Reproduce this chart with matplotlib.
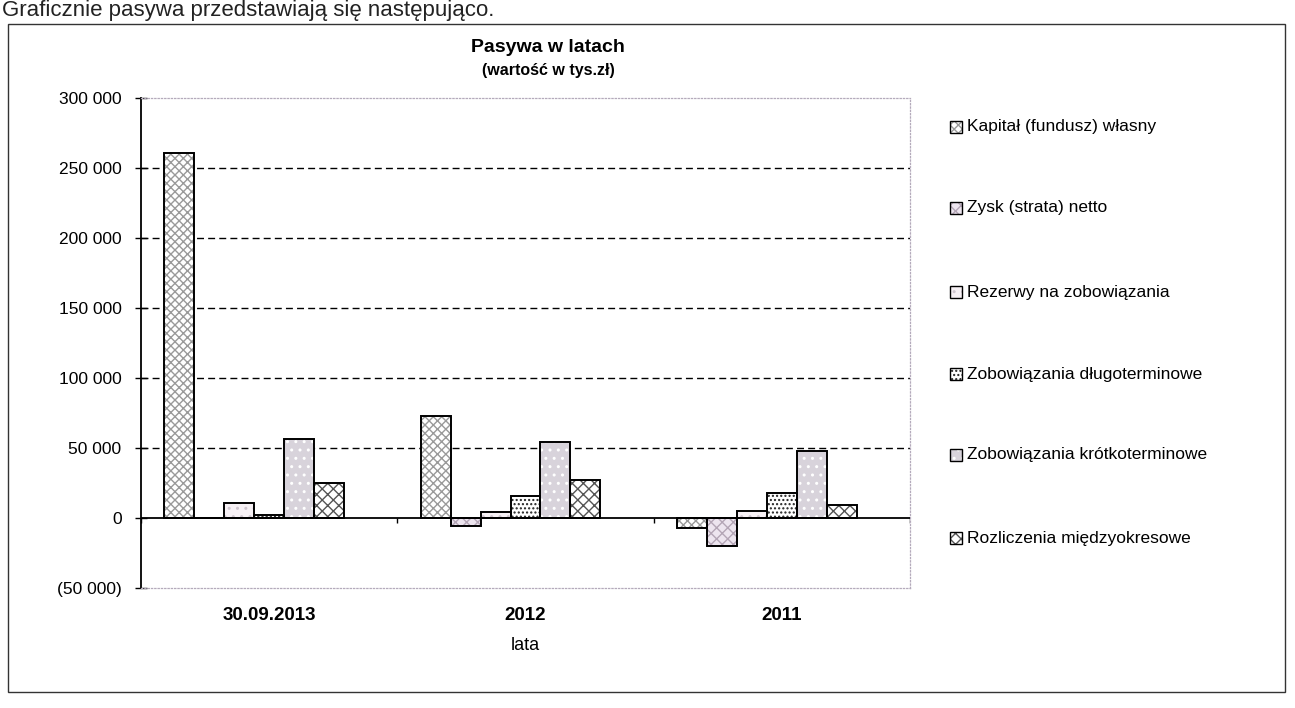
import numpy as np
import matplotlib
matplotlib.use("Agg")
import matplotlib.pyplot as plt
from matplotlib.patches import Rectangle
from matplotlib.ticker import FuncFormatter

plt.rcParams['font.family'] = ['Liberation Sans', 'DejaVu Sans']

categories = ['30.09.2013', '2012', '2011']
series = ['Kapitał (fundusz) własny', 'Zysk (strata) netto', 'Rezerwy na zobowiązania',
          'Zobowiązania długoterminowe', 'Zobowiązania krótkoterminowe', 'Rozliczenia międzyokresowe']
kapital = [261000, 73000, -7000]
zysk = [0, -6000, -20000]
rezerwy = [11000, 4500, 5000]
dlugo = [2500, 16000, 18000]
krotko = [56500, 54000, 48000]
rozliczenia = [25000, 27000, 9000]
values = [kapital, zysk, rezerwy, dlugo, krotko, rozliczenia]

faces = ['white', '#ede5ef', '#f7f1f5', 'white', '#d8d3db', 'white']
hatches = ['xxxx', 'xxx', '..', '....', '..', 'xxx']
hcolors = ['#9a9a9a', '#b4a6b6', '#cfc6cf', '#222222', 'white', '#555555']

fig = plt.figure(figsize=(12.95, 7.08), dpi=100)
ax = fig.add_axes([141 / 1295, 1 - 588 / 708, 769 / 1295, 490 / 708])

x = np.arange(len(categories))
nslots = 7  # excel leaves room for an empty 7th series
w = 0.117
gap = (1 - nslots * w) / 2
for i, vals in enumerate(values):
    pos = x - 0.5 + gap + w * (i + 0.5)
    ax.bar(pos, vals, w, color=faces[i], hatch=hatches[i], edgecolor=hcolors[i], linewidth=0, zorder=3)
    ax.bar(pos, vals, w, fill=False, edgecolor='black', linewidth=1.4, zorder=4)

ax.set_xlim(-0.5, 2.5)
ax.set_ylim(-50000, 300000)
ax.set_yticks(np.arange(-50000, 300001, 50000))


def fmt(v, p):
    s = f"{abs(int(v)):,}".replace(",", " ")
    return f"({s})" if v < 0 else s


ax.yaxis.set_major_formatter(FuncFormatter(fmt))
ax.tick_params(axis='y', labelsize=12.5, length=8, width=1, direction='inout', pad=10)
for yv in range(50000, 300000, 50000):
    ax.axhline(yv, color='black', linestyle=(0, (5, 3)), linewidth=1, zorder=1)
ax.axhline(0, color='black', linewidth=1.3, zorder=5)
ax.vlines(np.arange(-0.5, 3.0, 1.0), -3500, 0, color='black', linewidth=1, zorder=5)

ax.set_xticks(x)
ax.set_xticklabels(categories, fontsize=13.5, fontweight='bold')
ax.tick_params(axis='x', length=0, pad=14)
ax.set_xlabel('lata', fontsize=13, labelpad=9)

ax.spines['left'].set_linewidth(1.3)
for s in ['top', 'right', 'bottom']:
    ax.spines[s].set_color('#b4aabb')
    ax.spines[s].set_linewidth(0.9)
    ax.spines[s].set_linestyle(':')

fig.text(548 / 1295, 1 - 47 / 708, 'Pasywa w latach', ha='center', va='center', fontsize=14, fontweight='bold')
fig.text(548 / 1295, 1 - 70 / 708, '(wartość w tys.zł)', ha='center', va='center', fontsize=11.5, fontweight='bold')
fig.text(2 / 1295, 1 - 16 / 708, 'Graficznie pasywa przedstawiają się następująco.', ha='left',
         va='baseline', fontsize=16, color='#222222')

# outer chart frame
fig.patches.append(Rectangle((8 / 1295, 1 - 692 / 708), 1277 / 1295, 668 / 708, transform=fig.transFigure,
                             fill=False, edgecolor='#333333', linewidth=1))

# legend
leg_y = [127, 208, 292, 374, 455, 538]
for i, name in enumerate(series):
    yy = 1 - leg_y[i] / 708
    fig.patches.append(Rectangle((950 / 1295, yy - 6 / 708), 12 / 1295, 12 / 708, transform=fig.transFigure,
                                 facecolor=faces[i], hatch=hatches[i], edgecolor=hcolors[i], linewidth=0))
    fig.patches.append(Rectangle((950 / 1295, yy - 6 / 708), 12 / 1295, 12 / 708, transform=fig.transFigure,
                                 fill=False, edgecolor='black', linewidth=1))
    fig.text(967 / 1295, yy, name, ha='left', va='center', fontsize=12.5)

fig.savefig('out.png', dpi=100)
